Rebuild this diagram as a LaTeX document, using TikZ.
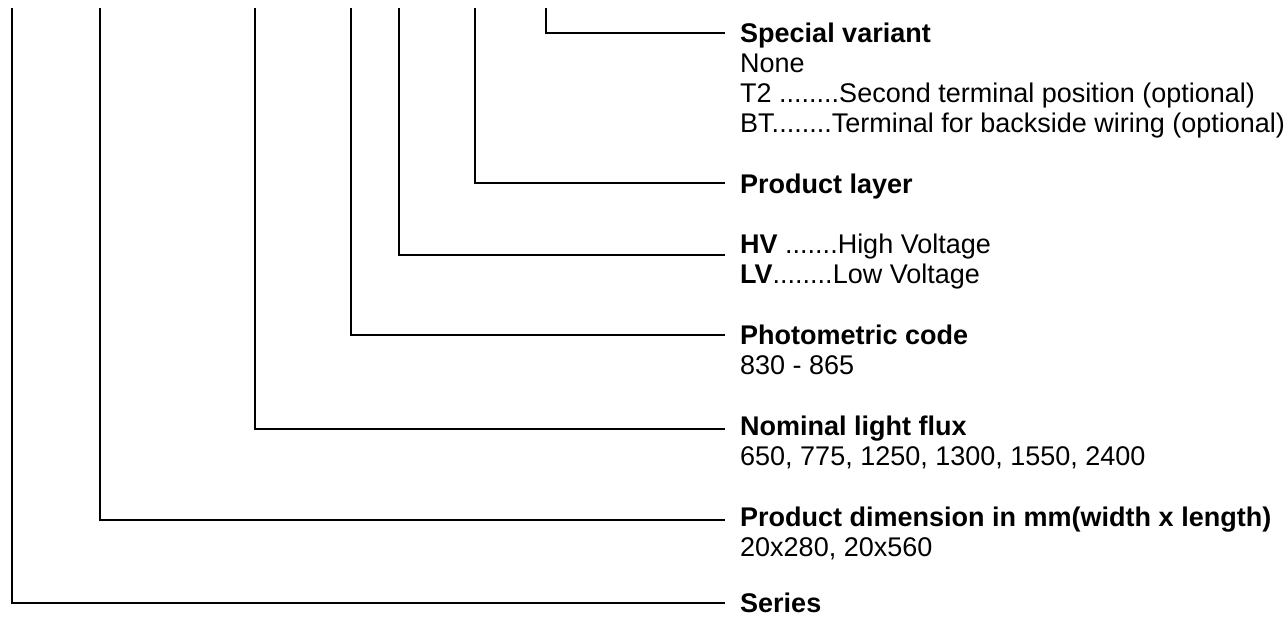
\documentclass[tikz,border=0pt]{standalone}
\usepackage{fontspec}
\setmainfont{Liberation Sans}
\begin{document}
\begin{tikzpicture}[x=1pt,y=-1pt,
  conn/.style={line width=1.6pt,line join=miter},
  txt/.style={anchor=base west,inner sep=0pt,font=\fontsize{27}{30}\selectfont}]
\useasboundingbox (0,0) rectangle (1287,624);
% top ends of the verticals
\coordinate (v1) at (546,8);
\coordinate (v2) at (475,8);
\coordinate (v3) at (399,8);
\coordinate (v4) at (351,8);
\coordinate (v5) at (255,8);
\coordinate (v6) at (100,8);
\coordinate (v7) at (12,8);
% right ends of the horizontals
\coordinate (e1) at (725,33);
\coordinate (e2) at (725,183);
\coordinate (e3) at (725,255);
\coordinate (e4) at (725,335);
\coordinate (e5) at (725,429);
\coordinate (e6) at (725,520);
\coordinate (e7) at (725,603);
\foreach \i in {1,...,7} \draw[conn] (v\i) |- (e\i);
% texts
\node[txt] (sv) at (740,42.5) {\textbf{Special variant}};
\node[txt] (sv1) at (740,72.5) {None};
\node[txt] (sv2) at (740,102.5) {T2 ........Second terminal position (optional)};
\node[txt] (sv3) at (740,132.5) {BT........Terminal for backside wiring (optional)};
\node[txt] (pl) at (740,193) {\textbf{Product layer}};
\node[txt] (hv) at (740,253) {\textbf{HV} .......High Voltage};
\node[txt] (lv) at (740,283) {\textbf{LV}........Low Voltage};
\node[txt] (pc) at (740,344) {\textbf{Photometric code}};
\node[txt] (pc1) at (740,374) {830 - 865};
\node[txt] (nf) at (740,435) {\textbf{Nominal light flux}};
\node[txt] (nf1) at (740,465) {650, 775, 1250, 1300, 1550, 2400};
\node[txt] (pd) at (740,526) {\textbf{Product dimension in mm(width x length)}};
\node[txt] (pd1) at (740,556) {20x280, 20x560};
\node[txt] (se) at (740,612.5) {\textbf{Series}};
\end{tikzpicture}
\end{document}
